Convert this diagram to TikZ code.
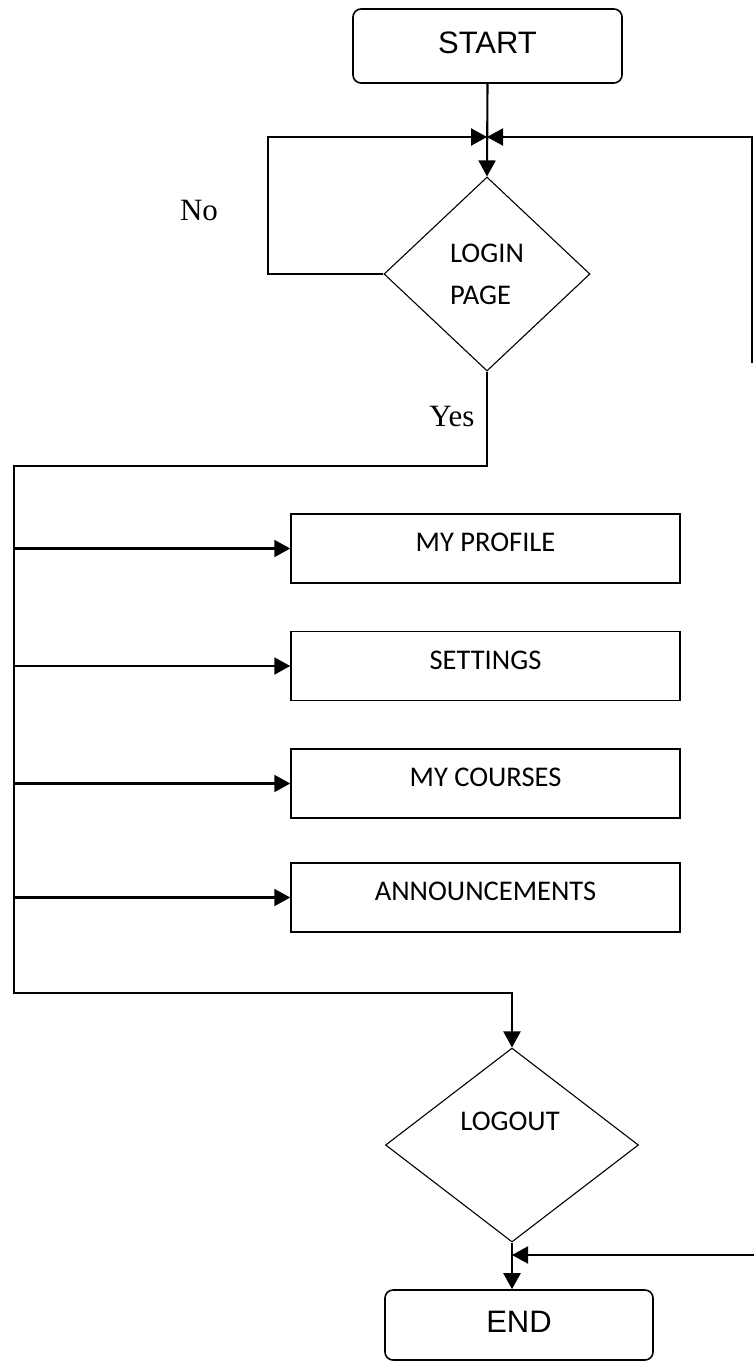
\documentclass[tikz,border=0pt]{standalone}
\usepackage{fontspec}
\setmainfont{Liberation Serif}
\newfontfamily\arialfont{Liberation Sans}
\newfontfamily\calibrifont{Carlito}
\usetikzlibrary{shapes.geometric,arrows.meta}

\begin{document}
\begin{tikzpicture}[x=1pt,y=-1pt,
termbox/.style={draw, rounded corners=8pt, line width=1.6pt, minimum width=269pt, minimum height=74pt, inner sep=0pt, font=\arialfont\fontsize{31}{36}\selectfont, text height=22pt, text depth=8pt},
procbox/.style={draw, line width=1.5pt, minimum width=389pt, minimum height=69pt, inner sep=0pt, font=\calibrifont\fontsize{28.5}{34}\selectfont, text height=18pt, text depth=12pt},
decbox/.style={draw, diamond, line width=1.1pt, inner sep=0pt},
answer/.style={inner sep=0pt, font=\fontsize{31}{36}\selectfont},
flow/.style={line width=2.1pt, -{Triangle[length=16pt,width=17pt]}},
]

\useasboundingbox (0,0) rectangle (754,1361);
%\draw[help lines,yellow,thin] (0,0) grid[step=50] (754,1361);

\node [termbox] (start) at (487.5,46) {START};
\node [decbox, minimum width=206pt, minimum height=194pt, align=left, font=\calibrifont\fontsize{28.5}{42}\selectfont] (login) at (487,274) {LOGIN\\PAGE};

\node [answer] (nolabel) at (199,210) {No};
\node [answer] (yeslabel) at (452,416) {Yes};

\node [procbox] (profile) at (485.5,548.5) {MY PROFILE};
\node [procbox] (settings) at (485.5,666) {SETTINGS};
\node [procbox] (courses) at (485.5,783.5) {MY COURSES};
\node [procbox] (announce) at (485.5,897.5) {ANNOUNCEMENTS};

\node [decbox, minimum width=253pt, minimum height=194pt] (logout) at (512,1145) {};
\node [inner sep=0pt, font=\calibrifont\fontsize{28.5}{34}\selectfont] (logouttext) at (510,1121) {LOGOUT};
\node [termbox, minimum width=268pt, minimum height=70pt] (stop) at (519,1325) {END};

\coordinate (join) at (487,137);
\coordinate (noloop) at (268,137);
\coordinate (backtop) at (752,363);
\coordinate (railtop) at (14,466);
\coordinate (railbot) at (14,993);
\coordinate (backbot) at (754,1255);

\draw [flow] (start.south) -- (login.north);
\draw [flow] (login.west) -| (noloop) -- (join);
\draw [flow] (backtop) |- (join);
\draw [flow] (login.south) |- (railtop) -- (railbot) -| (logout.north);

\foreach \b in {profile,settings,courses,announce}
  \draw [flow] (railtop |- \b.west) -- (\b.west);

\draw [flow] (logout.south) -- (logout.south |- stop.north);
\draw [flow] (backbot) -- (backbot -| logout.south);
\end{tikzpicture}
\end{document}
